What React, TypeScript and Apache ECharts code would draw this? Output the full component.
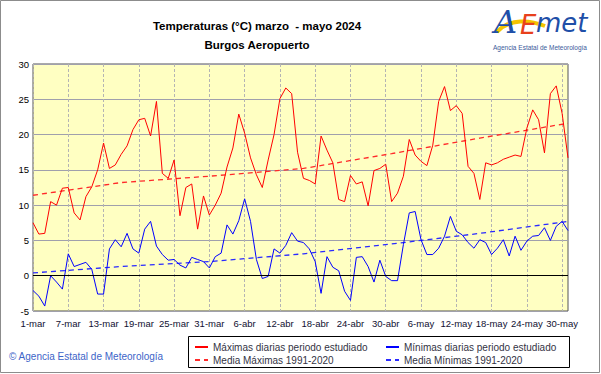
import React, { useEffect, useRef } from "react";
import * as echarts from "echarts";

const monthNames = ["mar", "abr", "may"];
const monthDays = [31, 30, 31];

const tmax = [
  7.5, 5.9, 6.0, 10.5, 10.0, 12.4, 12.5, 8.9, 7.9, 11.2,
  12.6, 15.0, 18.8, 15.2, 15.7, 17.2, 18.4, 20.7, 22.1, 22.3,
  19.8, 24.7, 14.5, 13.8, 16.4, 8.5, 12.5, 13.0, 6.6, 11.3,
  8.6, 10.0, 11.7, 15.4, 18.1, 22.9, 20.2, 16.7, 14.3, 12.5,
  16.4, 20.0, 25.1, 26.6, 25.8, 17.5, 13.8, 13.5, 13.0, 19.8,
  17.8, 16.0, 10.8, 10.5, 14.2, 13.0, 13.3, 9.9, 14.9, 15.2,
  15.8, 10.5, 11.7, 14.1, 19.3, 17.1, 16.2, 15.6, 18.5, 24.7,
  26.8, 23.4, 24.1, 23.0, 15.5, 14.5, 10.8, 16.0, 15.7, 16.0,
  16.5, 16.8, 17.1, 16.9, 20.9, 23.5, 22.1, 17.4, 25.8, 26.9,
  23.0, 16.7,
];

const tmin = [
  -2.1, -2.9, -4.3, 0.0, -0.9, -1.9, 3.1, 1.3, 1.6, 1.9,
  0.9, -2.6, -2.6, 3.8, 5.1, 4.1, 6.0, 3.8, 3.2, 6.6,
  7.7, 4.2, 3.0, 2.2, 2.3, 1.5, 1.1, 2.6, 2.3, 2.0,
  1.1, 2.7, 3.2, 7.2, 5.9, 7.8, 10.9, 7.7, 2.3, -0.4,
  -0.1, 3.8, 3.2, 4.3, 6.1, 4.9, 4.7, 3.8, 2.0, -2.5,
  2.7, 1.2, 0.7, -2.2, -3.5, 2.6, 2.7, 1.3, -0.9, 2.2,
  -0.1, -0.7, -0.7, 4.4, 8.9, 9.1, 5.1, 3.0, 3.0, 3.9,
  5.6, 8.4, 6.3, 5.8, 4.7, 3.9, 5.1, 4.7, 3.0, 3.9,
  5.1, 2.8, 5.6, 3.6, 4.9, 5.6, 5.7, 6.8, 5.0, 7.0,
  7.7, 6.4,
];

// mean climatology lines, read at a few positions (day index, value)
const meanMax = [
  [0, 11.4], [15, 13.2], [30, 14.1], [46, 15.2], [61, 17.3], [76, 19.5], [91, 21.6],
];
const meanMin = [
  [0, 0.4], [15, 1.3], [30, 2.0], [46, 3.1], [61, 4.5], [76, 6.0], [91, 7.7],
];

const yTicks = { min: -5, max: 30, interval: 5 };

const legendNames = [
  "Máximas diarias periodo estudiado",
  "Mínimas diarias periodo estudiado",
  "Media Máximas 1991-2020",
  "Media Mínimas 1991-2020",
];

const titleLines = ["Temperaturas (°C) marzo  - mayo 2024", "Burgos Aeropuerto"];

function buildDays(): string[] {
  const out: string[] = [];
  monthNames.forEach((m, k) => {
    for (let d = 1; d <= monthDays[k]; d++) out.push(`${d}-${m}`);
  });
  return out;
}

function hasFont(name: string): boolean {
  try {
    const c = document.createElement("canvas").getContext("2d")!;
    const s = "13-mar Temperaturas mayo";
    c.font = "20px monospace";
    const a = c.measureText(s).width;
    c.font = `20px '${name}', monospace`;
    const b = c.measureText(s).width;
    return Math.abs(a - b) > 0.5;
  } catch (e) {
    return false;
  }
}

export default function App() {
  const ref = useRef<HTMLDivElement>(null);
  useEffect(() => {
    document.body.style.margin = "0";
    const chart = echarts.init(ref.current!, null, { renderer: "svg" });
    const days = buildDays();
    const font = "Liberation Sans, Arial, sans-serif";
    const narrowOk = hasFont("Liberation Sans Narrow");
    const narrow = narrowOk ? "Liberation Sans Narrow" : font;
    const axisFontSize = narrowOk ? 11 : 9.5;
    const titleFontSize = narrowOk ? 13.5 : 11.5;
    const legendText = { fontFamily: font, fontSize: 10, color: "#333344" };
    const legendBase = {
      orient: "horizontal",
      itemWidth: 13,
      itemHeight: 8,
      itemGap: 4,
      padding: 0,
      selectedMode: false,
      itemStyle: { opacity: 0 },
      textStyle: legendText,
    };
    chart.setOption({
      animation: false,
      backgroundColor: "#ffffff",
      title: {
        text: titleLines.join("\n"),
        left: 257,
        top: 16,
        padding: 0,
        textAlign: "center",
        textStyle: {
          fontFamily: narrow,
          fontSize: titleFontSize,
          fontWeight: "bold",
          color: "#000000",
          lineHeight: 19,
        },
      },
      legend: [
        { ...legendBase, left: 194, top: 342, data: [legendNames[0]] },
        { ...legendBase, left: 385, top: 342, data: [legendNames[1]] },
        { ...legendBase, left: 194, top: 355, data: [legendNames[2]] },
        { ...legendBase, left: 385, top: 355, data: [legendNames[3]] },
      ],
      grid: {
        left: 33,
        right: 33,
        top: 64,
        bottom: 63,
        show: true,
        backgroundColor: "#ffffc2",
        borderColor: "#555555",
        borderWidth: 1,
      },
      xAxis: {
        type: "category",
        data: days,
        boundaryGap: false,
        axisLine: { show: false },
        axisTick: { show: false },
        axisLabel: {
          interval: 5,
          fontFamily: narrow,
          fontSize: axisFontSize,
          color: "#101030",
          margin: 7,
        },
        splitLine: {
          show: true,
          interval: 5,
          lineStyle: { color: "#b4b4b4", type: [3, 2], width: 1 },
        },
      },
      yAxis: {
        type: "value",
        min: yTicks.min,
        max: yTicks.max,
        interval: yTicks.interval,
        axisLine: { show: false },
        axisTick: { show: false },
        axisLabel: { fontFamily: narrow, fontSize: axisFontSize, color: "#000000", margin: 4 },
        splitLine: { show: true, lineStyle: { color: "#a0a0ac", width: 1 } },
      },
      series: [
        {
          name: legendNames[0],
          type: "line",
          data: tmax,
          symbol: "none",
          lineStyle: { color: "#ff0000", width: 1 },
          itemStyle: { color: "#ff0000" },
          z: 4,
          markLine: {
            silent: true,
            symbol: "none",
            label: { show: false },
            lineStyle: { color: "#000000", type: "solid", width: 1 },
            data: [{ yAxis: 0 }],
          },
        },
        {
          name: legendNames[1],
          type: "line",
          data: tmin,
          symbol: "none",
          lineStyle: { color: "#0000ff", width: 1 },
          itemStyle: { color: "#0000ff" },
          z: 4,
        },
        {
          name: legendNames[2],
          type: "line",
          data: meanMax,
          symbol: "none",
          lineStyle: { color: "#ff2a2a", width: 1.3, type: [5, 4] },
          itemStyle: { color: "#ff2a2a" },
          z: 3,
        },
        {
          name: legendNames[3],
          type: "line",
          data: meanMin,
          symbol: "none",
          lineStyle: { color: "#2a2aff", width: 1.3, type: [5, 4] },
          itemStyle: { color: "#2a2aff" },
          z: 3,
        },
      ],
      graphic: [
        {
          type: "rect",
          shape: { x: 0.5, y: 0.5, width: 599, height: 372 },
          style: { fill: "none", stroke: "#8c8c8c", lineWidth: 1 },
          silent: true,
          z: -1,
        },
        {
          type: "rect",
          shape: { x: 188.5, y: 336.5, width: 381, height: 31 },
          style: { fill: "#ffffff", stroke: "#000000", lineWidth: 1 },
          silent: true,
          z: -1,
        },
        {
          type: "text",
          left: 9,
          top: 351,
          style: {
            text: "© Agencia Estatal de Meteorología",
            fontFamily: font,
            fontSize: 10,
            fill: "#3c64c8",
          },
        },
        // AEMET logo approximation
        {
          type: "bezierCurve",
          shape: { x1: 497, y1: 32, x2: 545, y2: 26, cpx1: 510, cpy1: 18, cpx2: 530, cpy2: 20 },
          style: { stroke: "#f5c400", lineWidth: 4, fill: "none" },
          silent: true,
        },
        {
          type: "text",
          left: 494,
          top: 6,
          style: {
            text: "A",
            fontFamily: "DejaVu Serif, serif",
            fontSize: 32,
            fontStyle: "italic",
            fill: "#1f4fa8",
          },
        },
        {
          type: "text",
          left: 520,
          top: 12,
          style: {
            text: "E",
            fontFamily: "DejaVu Sans, sans-serif",
            fontSize: 26,
            fontStyle: "italic",
            fill: "#e8401c",
          },
        },
        {
          type: "text",
          left: 536,
          top: 10,
          style: {
            text: "met",
            fontFamily: "DejaVu Sans, sans-serif",
            fontSize: 26,
            fontStyle: "italic",
            fill: "#1f4fa8",
          },
        },
        {
          type: "text",
          left: 493,
          top: 44,
          style: {
            text: "Agencia Estatal de Meteorología",
            fontFamily: font,
            fontSize: 6.5,
            fill: "#3a5a9a",
          },
        },
      ],
    });
    return () => chart.dispose();
  }, []);
  return <div ref={ref} style={{ width: 601, height: 374 }} />;
}
